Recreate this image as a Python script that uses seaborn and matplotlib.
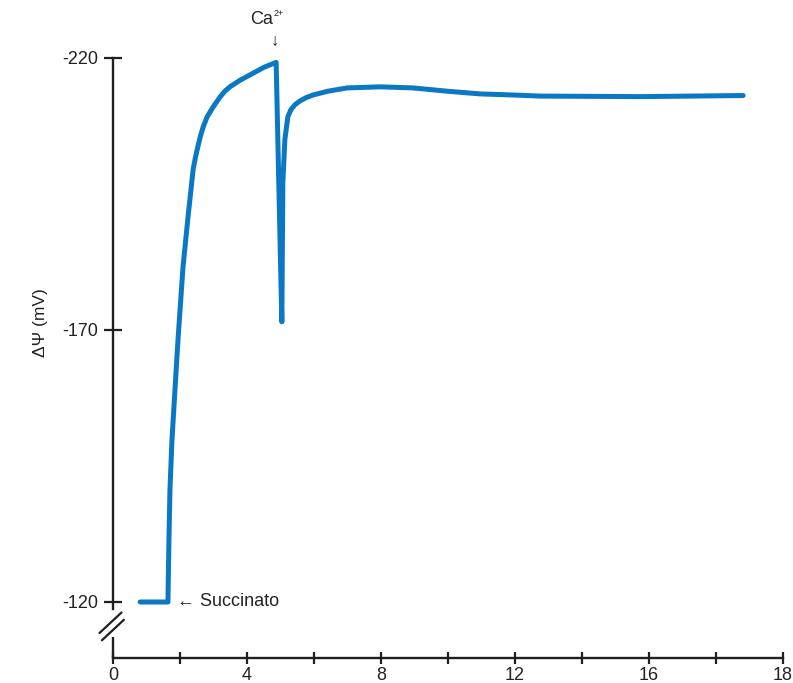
import matplotlib
matplotlib.use("Agg")
import matplotlib.pyplot as plt
import seaborn as sns
import pandas as pd

# Data (time, membrane potential)
time = [0.81, 1.64, 1.66, 1.67, 1.70, 1.76, 1.85, 1.94, 2.09, 2.24, 2.39, 2.45, 2.51,
        2.60, 2.69, 2.81, 2.99, 3.19, 3.34, 3.49, 3.64, 3.79, 3.94, 4.09, 4.24, 4.39,
        4.51, 4.63, 4.75, 4.87,
        5.04, 5.07, 5.13, 5.22, 5.31, 5.43, 5.58, 5.76, 5.97, 6.42, 6.99, 7.97,
        8.96, 9.97, 10.96, 11.94, 12.75, 15.73, 18.81]
dpsi = [-120.0, -120.0, -127.7, -131.4, -140.6, -149.8, -159.0, -168.2, -181.6, -190.8,
        -199.4, -201.4, -203.1, -205.4, -207.3, -209.2, -211.0, -212.8, -213.9, -214.7,
        -215.3, -215.9, -216.4, -216.9, -217.4, -217.9, -218.3, -218.6, -218.9, -219.2,
        -171.5, -197.0, -205.0, -209.2, -210.5, -211.4, -212.1, -212.7, -213.2, -213.9,
        -214.5, -214.7, -214.5, -213.9, -213.4, -213.2, -213.0, -212.9, -213.1]
xtick_pos = [0, 2, 4, 6, 8, 10, 12, 14, 16, 18, 20]
xtick_lab = ["0", "", "4", "", "8", "", "12", "", "16", "", "18"]
ytick_pos = [-220, -170, -120]
ytick_lab = ["-220", "-170", "-120"]

df = pd.DataFrame({"t": time, "v": dpsi})

sns.set_style("white")
plt.rcParams["font.family"] = ["Liberation Sans", "DejaVu Sans"]

W, H = 793, 683
fig = plt.figure(figsize=(W / 100, H / 100), dpi=100)
ax = fig.add_axes([113 / W, 1 - 658 / H, (783 - 113) / W, (658 - 58) / H])

line_col = "#0a78c2"
axis_col = "#231f20"
txt_col = "#222222"
sns.lineplot(data=df, x="t", y="v", sort=False, estimator=None, ax=ax,
             color=line_col, linewidth=3.6, solid_joinstyle="round")

ax.set_xlim(0, 20)
ybottom = -120 + (658 - 602) / 5.44
ax.set_ylim(ybottom, -220)

ax.set_xticks(xtick_pos)
ax.set_xticklabels(xtick_lab)
ax.set_yticks(ytick_pos)
ax.set_yticklabels(ytick_lab)
ax.tick_params(axis="both", direction="inout", color=axis_col, width=1.6,
               labelsize=13, labelcolor=txt_col, bottom=True, left=True)
ax.tick_params(axis="x", length=9, pad=2)
ax.tick_params(axis="y", length=13, pad=4)

for s in ["top", "right"]:
    ax.spines[s].set_visible(False)
for s in ["left", "bottom"]:
    ax.spines[s].set_color(axis_col)
    ax.spines[s].set_linewidth(1.7)
y_break_top = -220 + (609 - 58) / 5.44
y_break_bot = -220 + (637 - 58) / 5.44
ax.spines["left"].set_bounds(-220, y_break_top)
ax.plot([0, 0], [y_break_bot, ybottom], color=axis_col, lw=1.7, clip_on=False,
        solid_capstyle="butt")

# break marks (figure pixel coords)
def fx(px):
    return px / W
def fy(py):
    return 1 - py / H
for dx, dy in [(0, 0), (2.4, 7.3)]:
    fig.add_artist(plt.Line2D([fx(99.5 + dx), fx(121.5 + dx)],
                              [fy(633 + dy), fy(612.5 + dy)],
                              color=axis_col, lw=1.6))

ax.set_ylabel("")
ax.set_xlabel("")
fig.text(fx(40), fy(323), "ΔΨ (mV)", rotation=90, ha="center", va="center",
         fontsize=12.5, color=txt_col)

fig.text(fx(273), fy(19), "Ca", ha="right", va="center", fontsize=13, color=txt_col)
fig.text(fx(274), fy(13), "2+", ha="left", va="center", fontsize=6.5, color=txt_col)
fig.text(fx(275), fy(41), "↓", ha="center", va="center", fontsize=12, color=txt_col)
ax.text(1.9, -120.0, "← Succinato", ha="left", va="center", fontsize=13,
        color=txt_col, clip_on=False)

fig.savefig("out.png", dpi=100)
